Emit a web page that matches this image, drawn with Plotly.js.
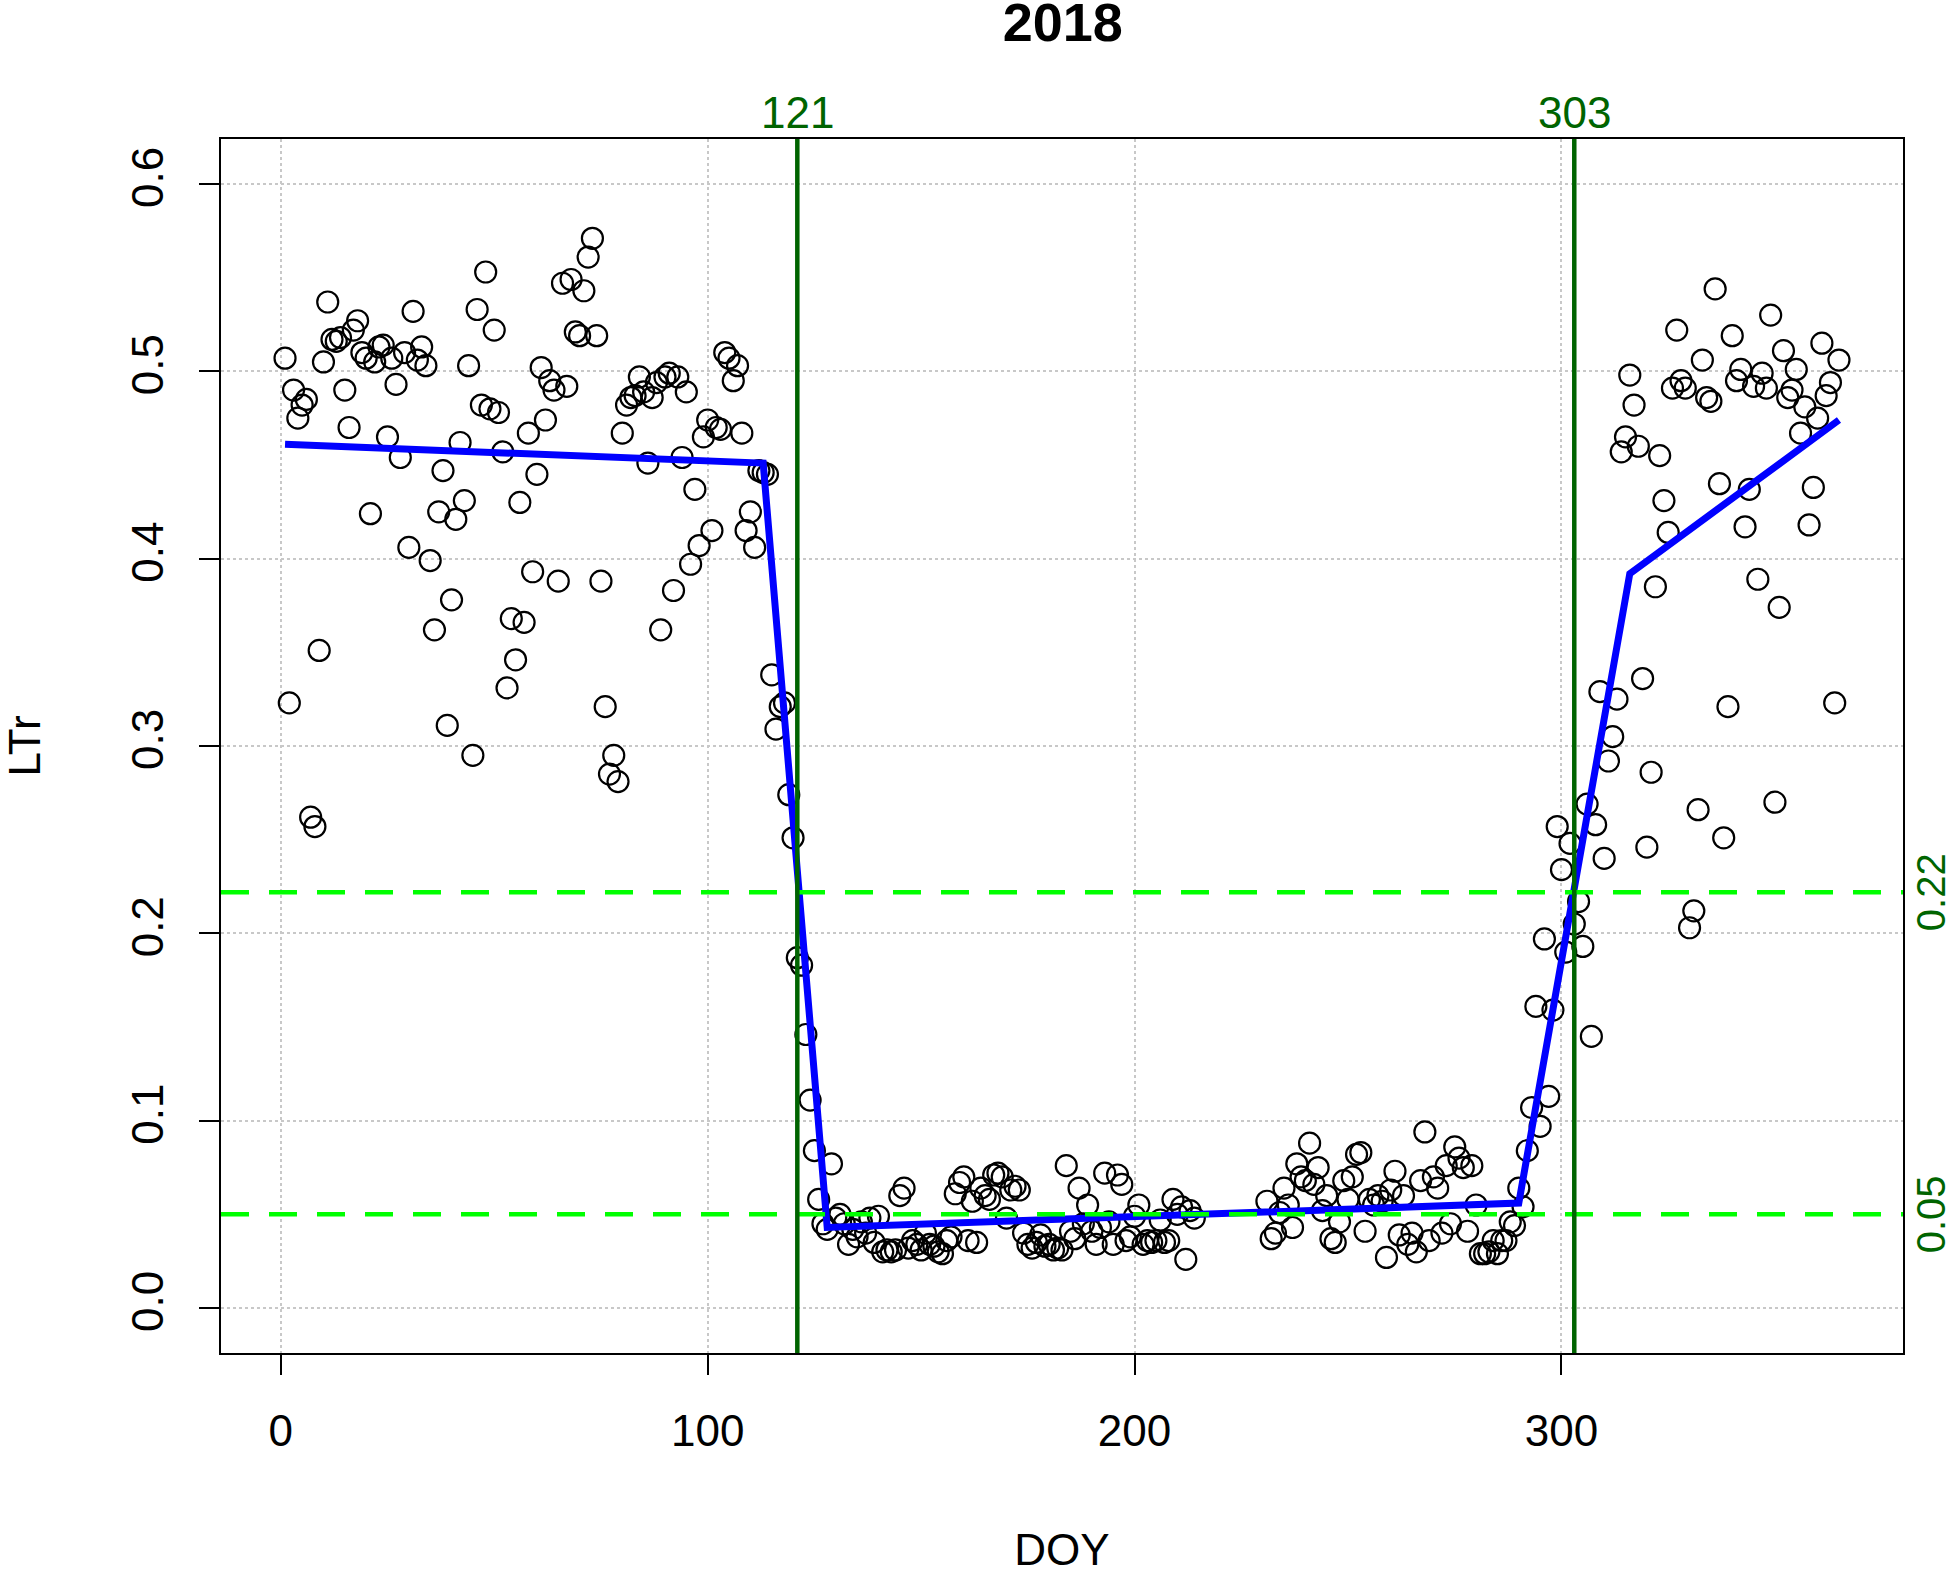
<!DOCTYPE html>
<html>
<head>
<meta charset="utf-8">
<script src="https://cdn.plot.ly/plotly-3.0.1.min.js"></script>
<style>body{margin:0;background:#fff}#plot{width:1950px;height:1576px}</style>
</head>
<body>
<div id="plot"></div>
<script>
// spring / winter part, days 1..127
const springDoy = [];
for (let d = 1; d <= 127; d++) springDoy.push(d);
const springLtr = [
  0.507,0.323,0.490,0.475,0.482,0.485,0.262,0.257,0.351,0.505,
  0.537,0.517,0.516,0.518,0.490,0.470,0.522,0.527,0.510,0.507,
  0.424,0.505,0.513,0.514,0.465,0.507,0.493,0.454,0.510,0.406,
  0.532,0.506,0.513,0.503,0.399,0.362,0.425,0.447,0.311,0.378,
  0.421,0.462,0.431,0.503,0.295,0.533,0.482,0.553,0.480,0.522,
  0.478,0.457,0.331,0.368,0.346,0.430,0.366,0.467,0.393,0.445,
  0.502,0.474,0.495,0.490,0.388,0.547,0.492,0.549,0.521,0.519,
  0.543,0.561,0.571,0.519,0.388,0.321,0.285,0.295,0.281,0.467,
  0.482,0.486,0.487,0.497,0.489,0.451,0.486,0.494,0.362,0.497,
  0.499,0.383,0.497,0.454,0.489,0.397,0.437,0.407,0.465,0.474,
  0.415,0.470,0.469,0.510,0.507,0.495,0.503,0.467,0.415,0.425,
  0.406,0.447,0.446,0.445,0.338,0.309,0.321,0.323,0.274,0.251,
  0.187,0.183,0.146,0.111,0.084,0.058,0.045
];
// summer part, days 128..214 and 231..289
const summerDoy = [];
for (let d = 128; d <= 214; d++) summerDoy.push(d);
for (let d = 231; d <= 289; d++) summerDoy.push(d);
const summerLtr = [
  0.042,0.077,0.048,0.050,0.045,0.034,0.042,0.038,0.046,0.040,
  0.048,0.035,0.049,0.030,0.031,0.030,0.031,0.060,0.064,0.032,
  0.036,0.034,0.031,0.040,0.034,0.033,0.030,0.029,0.036,0.038,
  0.061,0.067,0.070,0.036,0.057,0.035,0.064,0.060,0.058,0.071,
  0.072,0.070,0.048,0.063,0.065,0.063,0.040,0.034,0.032,0.035,
  0.039,0.033,0.034,0.031,0.032,0.031,0.076,0.041,0.037,0.064,
  0.045,0.055,0.041,0.034,0.043,0.072,0.046,0.034,0.071,0.066,
  0.036,0.038,0.049,0.055,0.034,0.036,0.035,0.036,0.047,0.035,
  0.036,0.058,0.050,0.054,0.026,0.052,0.048,
  0.057,0.037,0.040,0.051,0.064,0.055,0.043,0.077,0.070,0.068,
  0.088,0.066,0.075,0.052,0.060,0.037,0.035,0.046,0.068,0.058,
  0.070,0.082,0.083,0.041,0.058,0.055,0.060,0.057,0.027,0.063,
  0.073,0.039,0.060,0.034,0.040,0.030,0.068,0.094,0.036,0.070,
  0.064,0.040,0.076,0.045,0.086,0.080,0.075,0.041,0.076,0.055,
  0.029,0.029,0.030,0.036,0.029,0.036,0.036,0.046,0.044
];
// autumn part, days 290..365
const autumnDoy = [];
for (let d = 290; d <= 365; d++) autumnDoy.push(d);
const autumnLtr = [
  0.064,0.054,0.084,0.107,0.161,0.097,0.197,0.113,0.159,0.257,
  0.234,0.190,0.248,0.205,0.217,0.193,0.269,0.145,0.258,0.329,
  0.240,0.292,0.305,0.325,0.457,0.465,0.498,0.482,0.460,0.336,
  0.246,0.286,0.385,0.455,0.431,0.414,0.491,0.522,0.495,0.491,
  0.203,0.212,0.266,0.506,0.486,0.484,0.544,0.440,0.251,0.321,
  0.519,0.495,0.501,0.417,0.437,0.492,0.389,0.499,0.491,0.530,
  0.270,0.374,0.511,0.486,0.490,0.501,0.467,0.481,0.418,0.438,
  0.475,0.515,0.487,0.494,0.323,0.506
];
// fitted piecewise curve
const fitDoy = [1, 113, 128, 290, 316, 365];
const fitLtr = [0.461, 0.451, 0.043, 0.056, 0.392, 0.474];
// thresholds and dates
const thresholds = [0.222, 0.05];
const thresholdLabels = ['0.22', '0.05'];
const dates = [121, 303];

const darkGreen = '#006400';
const xr = [-14, 380];
const yr = [-0.024, 0.624];

const doy = springDoy.concat(summerDoy, autumnDoy);
const ltr = springLtr.concat(summerLtr, autumnLtr);

const traces = [
  {x: doy, y: ltr, type: 'scatter', mode: 'markers',
   marker: {symbol: 'circle-open', size: 21, color: '#000', line: {width: 2.2, color: '#000'}},
   hoverinfo: 'x+y'},
  {x: fitDoy, y: fitLtr, type: 'scatter', mode: 'lines',
   line: {color: '#0000ff', width: 7}}
];
thresholds.forEach(t => traces.push({x: xr, y: [t, t], type: 'scatter', mode: 'lines',
  line: {color: '#00ff00', width: 4.5, dash: '28px,20px'}}));
dates.forEach(d => traces.push({x: [d, d], y: yr, type: 'scatter', mode: 'lines',
  line: {color: darkGreen, width: 4.5}}));

const annotations = [];
dates.forEach(d => annotations.push({x: d, xref: 'x', y: 1, yref: 'paper', yanchor: 'bottom',
  yshift: 0, text: String(d), showarrow: false, font: {size: 44, color: darkGreen, family: 'Liberation Sans Narrow, Liberation Sans'}}));
thresholds.forEach((t, i) => annotations.push({x: 1, xref: 'paper', xanchor: 'center', xshift: 28,
  y: t, yref: 'y', text: thresholdLabels[i], textangle: -90, showarrow: false,
  font: {size: 40, color: darkGreen, family: 'Liberation Sans'}}));

const axisCommon = {
  showline: true, linecolor: '#000', linewidth: 2, mirror: true,
  ticks: 'outside', ticklen: 20, tickwidth: 2, tickcolor: '#000',
  ticklabelstandoff: 18,
  showgrid: true, gridcolor: '#c8c8c8', griddash: 'dot', gridwidth: 2,
  zeroline: false, tickfont: {size: 44, family: 'Liberation Sans', color: '#000'}
};

const layout = {
  width: 1950, height: 1576,
  margin: {l: 221, r: 47, t: 139, b: 223},
  paper_bgcolor: '#fff', plot_bgcolor: '#fff',
  showlegend: false,
  font: {family: 'Liberation Sans', color: '#000'},
  title: {text: '<b>2018</b>', x: 0.545, xanchor: 'center', y: 0.998, yanchor: 'top',
    font: {size: 54, family: 'Liberation Sans', color: '#000'}},
  xaxis: Object.assign({}, axisCommon, {range: xr, tickvals: [0, 100, 200, 300],
    title: {text: 'DOY', font: {size: 44}, standoff: 80}}),
  yaxis: Object.assign({}, axisCommon, {range: yr, tickvals: [0, 0.1, 0.2, 0.3, 0.4, 0.5, 0.6],
    ticktext: ['0.0', '0.1', '0.2', '0.3', '0.4', '0.5', '0.6'], tickangle: -90,
    title: {text: 'LTr', font: {size: 44}, standoff: 80}}),
  annotations: annotations
};

Plotly.newPlot('plot', traces, layout, {displayModeBar: false, staticPlot: true});
</script>
</body>
</html>
